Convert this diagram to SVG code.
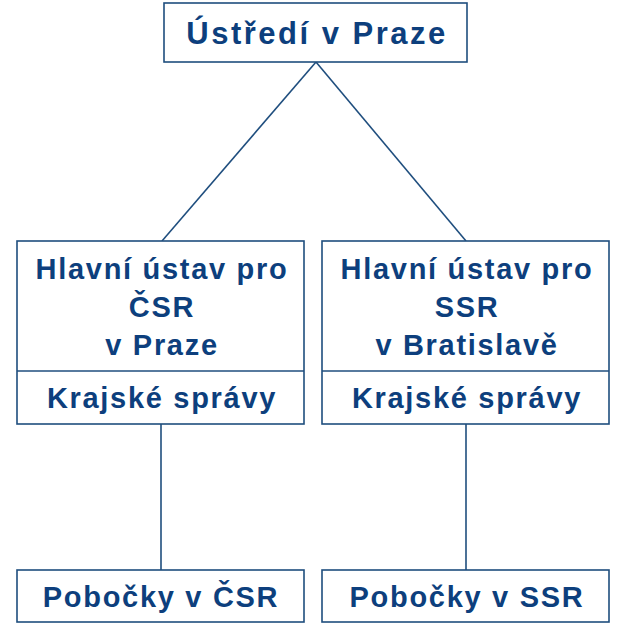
<svg xmlns="http://www.w3.org/2000/svg" width="628" height="627" viewBox="0 0 628 627">
<style>
.box{fill:#ffffff;stroke:#1f4e7e;stroke-width:1.6}
.ln{fill:none;stroke:#1f4e7e;stroke-width:1.6}
text{font-family:"Liberation Sans",Arial,sans-serif;font-weight:bold;fill:#0d3f7d;text-anchor:middle}
.t1{font-size:31px;letter-spacing:2.5px}
.t2{font-size:29px;letter-spacing:1.7px}
</style>
<rect width="628" height="627" fill="#ffffff"/>
<g id="connectors">
<line class="ln" x1="316" y1="62" x2="162" y2="241"/>
<line class="ln" x1="316" y1="62" x2="466" y2="241"/>
<line class="ln" x1="161" y1="424" x2="161" y2="570"/>
<line class="ln" x1="466" y1="424" x2="466" y2="570"/>
</g>
<g id="ustredi">
<rect class="box" x="164" y="3" width="303" height="59"/>
<text class="t1" x="317" y="44">Ústředí v Praze</text>
</g>
<g id="hlavni-csr">
<rect class="box" x="17" y="241" width="287" height="183"/>
<line class="ln" x1="17" y1="371" x2="304" y2="371"/>
<text class="t2" x="162" y="279">Hlavní ústav pro</text>
<text class="t2" x="162" y="317">ČSR</text>
<text class="t2" x="162" y="355">v Praze</text>
<text class="t2" x="162" y="408">Krajské správy</text>
</g>
<g id="hlavni-ssr">
<rect class="box" x="322" y="241" width="287" height="183"/>
<line class="ln" x1="322" y1="371" x2="609" y2="371"/>
<text class="t2" x="467" y="279">Hlavní ústav pro</text>
<text class="t2" x="467" y="317">SSR</text>
<text class="t2" x="467" y="355">v Bratislavě</text>
<text class="t2" x="467" y="408">Krajské správy</text>
</g>
<g id="pobocky-csr">
<rect class="box" x="17" y="570" width="287" height="52"/>
<text class="t2" x="161" y="607">Pobočky v ČSR</text>
</g>
<g id="pobocky-ssr">
<rect class="box" x="322" y="570" width="287" height="52"/>
<text class="t2" x="467" y="607">Pobočky v SSR</text>
</g>
</svg>
